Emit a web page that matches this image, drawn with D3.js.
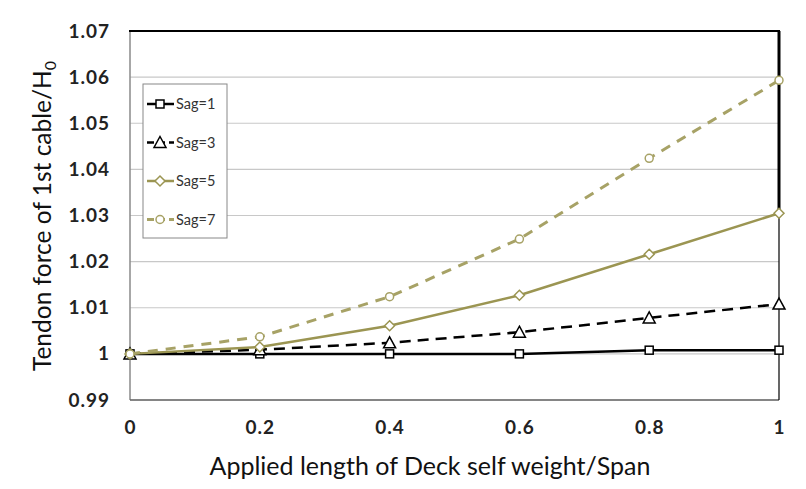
<!DOCTYPE html>
<html><head><meta charset="utf-8">
<script src="https://cdn.jsdelivr.net/npm/d3@7"></script>
<style>body{margin:0;background:#fff;} svg{display:block;}</style>
</head><body>
<svg id="chart" width="806" height="489"></svg>
<script>
const xValues = [0, 0.2, 0.4, 0.6, 0.8, 1];
const sag1 = [1, 1.0000, 1.0000, 1.0000, 1.0008, 1.0008];
const sag3 = [1, 1.0009, 1.0024, 1.0047, 1.0078, 1.0108];
const sag5 = [1, 1.0015, 1.0061, 1.0127, 1.0216, 1.0305];
const sag7 = [1, 1.0037, 1.0124, 1.0249, 1.0424, 1.0593];
const seriesNames = ["Sag=1", "Sag=3", "Sag=5", "Sag=7"];
const yTicks = [0.99, 1, 1.01, 1.02, 1.03, 1.04, 1.05, 1.06, 1.07];
const xTicks = [0, 0.2, 0.4, 0.6, 0.8, 1];

const olive = "#9b9552";
const styles = [
  {color:"#000", dash:null, marker:"square", width:2.5},
  {color:"#000", dash:"11,7", marker:"triangle", width:2.5},
  {color:olive, dash:null, marker:"diamond", width:2.5},
  {color:"#a7a266", dash:"10,8", marker:"circle", width:3}
];
const series = [sag1, sag3, sag5, sag7];
const FONT = "Lato, 'Open Sans', sans-serif";

const svg = d3.select("#chart");
const L = 130, R = 779, T = 31, B = 400;
const x = d3.scaleLinear().domain([0, 1]).range([L, R]);
const y = d3.scaleLinear().domain([0.99, 1.07]).range([B, T]);

// gridlines
svg.append("g").selectAll("line").data(yTicks).join("line")
  .attr("x1", L).attr("x2", R)
  .attr("y1", d => y(d)).attr("y2", d => y(d))
  .attr("stroke", "#c8c8c8").attr("stroke-width", 1.2);

// frame
svg.append("line").attr("x1", L).attr("x2", L).attr("y1", T).attr("y2", B).attr("stroke", "#8a8a8a").attr("stroke-width", 1.5);
svg.append("line").attr("x1", L).attr("x2", R).attr("y1", B).attr("y2", B).attr("stroke", "#666").attr("stroke-width", 1.3);
svg.append("line").attr("x1", L - 1).attr("x2", R + 1).attr("y1", T).attr("y2", T).attr("stroke", "#000").attr("stroke-width", 2);
svg.append("line").attr("x1", R).attr("x2", R).attr("y1", T).attr("y2", y(1.0297)).attr("stroke", "#000").attr("stroke-width", 3);
svg.append("line").attr("x1", R).attr("x2", R).attr("y1", y(1.0297)).attr("y2", B).attr("stroke", "#000").attr("stroke-width", 1.2);

// axes labels
const yAxis = d3.axisLeft(y).tickValues(yTicks).tickSize(0).tickPadding(20)
  .tickFormat(d => d === 1 ? "1" : d3.format(".2f")(d));
const gy = svg.append("g").attr("transform", `translate(${L},0)`).call(yAxis);
gy.select(".domain").remove();
gy.selectAll("text").attr("font-family", FONT).attr("font-weight", "bold")
  .attr("font-size", 19).attr("letter-spacing", 1).attr("fill", "#222");

const xAxis = d3.axisBottom(x).tickValues(xTicks).tickSize(0).tickPadding(21)
  .tickFormat(d => d === 0 ? "0" : d === 1 ? "1" : d3.format(".1f")(d));
const gx = svg.append("g").attr("transform", `translate(0,${B})`).call(xAxis);
gx.select(".domain").remove();
gx.selectAll("text").attr("font-family", FONT).attr("font-weight", "bold")
  .attr("font-size", 19).attr("letter-spacing", 1).attr("fill", "#222");

// titles
svg.append("text").attr("x", 430).attr("y", 475).attr("text-anchor", "middle")
  .attr("font-family", FONT).attr("font-size", 25).attr("fill", "#111")
  .text("Applied length of Deck self weight/Span");
const yt = svg.append("text").attr("transform", "translate(51,216) rotate(-90)").attr("text-anchor", "middle")
  .attr("font-family", FONT).attr("font-size", 24.5).attr("fill", "#111");
yt.append("tspan").text("Tendon force of 1st cable/H");
yt.append("tspan").attr("font-size", 16).attr("dy", 5).text("0");

// markers
function drawMarker(g, type, color) {
  if (type === "square") g.append("rect").attr("x", -4).attr("y", -4).attr("width", 8).attr("height", 8);
  else if (type === "triangle") g.append("path").attr("d", "M0,-6L6,5L-6,5Z");
  else if (type === "diamond") g.append("path").attr("d", "M0,-5L5,0L0,5L-5,0Z");
  else g.append("circle").attr("r", 4);
  g.selectAll("*").attr("fill", "#fff").attr("stroke", color).attr("stroke-width", 1.5);
}

const line = d3.line().x((d, i) => x(xValues[i])).y(d => y(d));
series.forEach((s, k) => {
  const st = styles[k];
  svg.append("path").datum(s).attr("d", line).attr("fill", "none")
    .attr("stroke", st.color).attr("stroke-width", st.width)
    .attr("stroke-dasharray", st.dash);
  s.forEach((v, i) => {
    const g = svg.append("g").attr("transform", `translate(${x(xValues[i])},${y(v)})`);
    drawMarker(g, st.marker, st.color);
  });
});

// legend
const lg = svg.append("g");
lg.append("rect").attr("x", 143).attr("y", 84).attr("width", 84).attr("height", 154)
  .attr("fill", "#fff").attr("stroke", "#888").attr("stroke-width", 1);
seriesNames.forEach((name, k) => {
  const st = styles[k];
  const cy = 104 + k * 38.5;
  lg.append("line").attr("x1", 147).attr("x2", 174).attr("y1", cy).attr("y2", cy)
    .attr("stroke", st.color).attr("stroke-width", st.width).attr("stroke-dasharray", st.dash ? "7,4" : null);
  const g = lg.append("g").attr("transform", `translate(160,${cy})`);
  drawMarker(g, st.marker, st.color);
  lg.append("text").attr("x", 176).attr("y", cy + 5).attr("font-family", FONT)
    .attr("font-size", 14.5).attr("fill", "#333").text(name);
});
</script>
</body></html>
